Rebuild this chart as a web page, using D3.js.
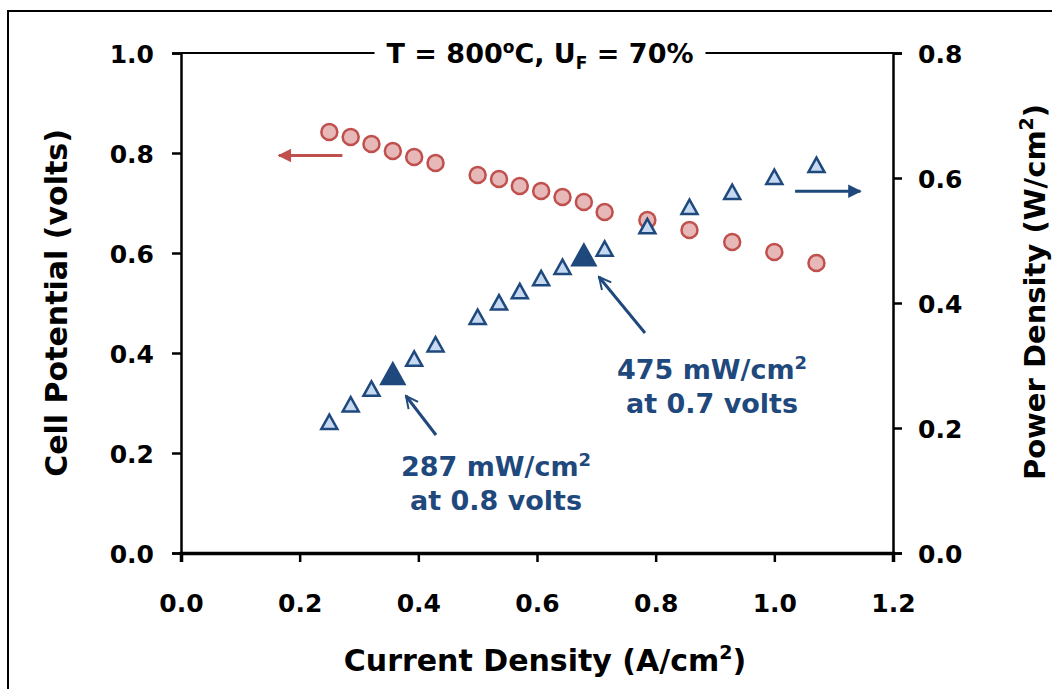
<!DOCTYPE html>
<html>
<head>
<meta charset="utf-8">
<script src="https://cdn.jsdelivr.net/npm/d3@7"></script>
<style>
  body { margin: 0; background: #fff; }
  svg text { font-family: "DejaVu Sans", Verdana, sans-serif; font-weight: bold; }
</style>
</head>
<body>
<div id="chart"></div>
<script>

// current density (A/cm2)
var current = [0.25, 0.286, 0.321, 0.357, 0.393, 0.429, 0.5, 0.536, 0.571,
               0.607, 0.643, 0.679, 0.714, 0.786, 0.857, 0.929, 1.0, 1.071];
// cell potential (volts)
var voltage = [0.842, 0.832, 0.818, 0.804, 0.792, 0.780, 0.756, 0.748, 0.734,
               0.724, 0.712, 0.702, 0.682, 0.666, 0.646, 0.622, 0.602, 0.580];
// power density (W/cm2)
var power = [0.210, 0.238, 0.263, 0.287, 0.311, 0.334, 0.378, 0.401, 0.419,
             0.440, 0.458, 0.477, 0.487, 0.523, 0.554, 0.578, 0.602, 0.621];
// the two highlighted operating points
var highlight = [3, 11];

var xTicks = [0, 0.2, 0.4, 0.6, 0.8, 1.0, 1.2];
var yTicks = [0, 0.2, 0.4, 0.6, 0.8, 1.0];
var y2Ticks = [0, 0.2, 0.4, 0.6, 0.8];

var red = '#c0504d', redFill = '#e6b9b8';
var blue = '#1f497d', blueFill = '#c6d9f1';

var W = 1052, H = 689;
var pLeft = 181, pRight = 893, pTop = 53, pBottom = 553;

var svg = d3.select('#chart')
    .append('svg')
    .attr('width', W)
    .attr('height', H);

svg.append('rect')
    .attr('x', 8).attr('y', 11)
    .attr('width', W + 20).attr('height', H + 20)
    .attr('fill', 'none')
    .attr('stroke', '#000')
    .attr('stroke-width', 2);

var x = d3.scaleLinear().domain([0, 1.2]).range([pLeft, pRight]);
var y = d3.scaleLinear().domain([0, 1.0]).range([pBottom, pTop]);
var y2 = d3.scaleLinear().domain([0, 0.8]).range([pBottom, pTop]);

var fmt = d3.format('.1f');

// top frame line (broken by the title)
svg.append('line')
    .attr('x1', pLeft).attr('x2', pRight)
    .attr('y1', pTop).attr('y2', pTop)
    .attr('stroke', '#000').attr('stroke-width', 2);

var axL = svg.append('g')
    .attr('transform', 'translate(' + pLeft + ',0)')
    .call(d3.axisLeft(y).tickValues(yTicks).tickFormat(fmt).tickSize(9).tickPadding(18));

var axR = svg.append('g')
    .attr('transform', 'translate(' + pRight + ',0)')
    .call(d3.axisRight(y2).tickValues(y2Ticks).tickFormat(fmt).tickSize(9).tickPadding(16));

var axB = svg.append('g')
    .attr('transform', 'translate(0,' + pBottom + ')')
    .call(d3.axisBottom(x).tickValues(xTicks).tickFormat(fmt).tickSize(9).tickPadding(32));

[axL, axR, axB].forEach(function(g) {
	g.select('.domain').attr('stroke', '#000').attr('stroke-width', 2.5);
	g.selectAll('.tick line').attr('stroke', '#000').attr('stroke-width', 2.5);
	g.selectAll('.tick text')
	    .attr('fill', '#000')
	    .style('font-size', '25px')
	    .style('font-family', '"DejaVu Sans", Verdana, sans-serif')
	    .style('font-weight', 'bold');
});
axB.select('.domain').attr('stroke-width', 3.5);
axL.selectAll('.tick text').attr('dy', '0.36em');
axR.selectAll('.tick text').attr('dy', '0.36em');

// title with white backing over the top line
var titleBg = svg.append('rect').attr('fill', '#fff');
var title = svg.append('text')
    .attr('x', 540).attr('y', 63)
    .attr('text-anchor', 'middle')
    .style('font-size', '27px');
title.append('tspan').text('T = 800');
title.append('tspan').attr('dy', -10).style('font-size', '17px').text('o');
title.append('tspan').attr('dy', 10).text('C, U');
title.append('tspan').attr('dy', 6).style('font-size', '17px').text('F');
title.append('tspan').attr('dy', -6).text(' = 70%');
var tb = title.node().getBBox();
titleBg
    .attr('x', tb.x - 12).attr('y', pTop - 4)
    .attr('width', tb.width + 24).attr('height', 8);

// axis titles
var xt = svg.append('text')
    .attr('x', 545).attr('y', 671)
    .attr('text-anchor', 'middle')
    .style('font-size', '30px')
    .text('Current Density (A/cm');
xt.append('tspan').attr('dy', -12).style('font-size', '19px').text('2');
xt.append('tspan').attr('dy', 12).text(')');

svg.append('text')
    .attr('transform', 'translate(67,' + 303 + ') rotate(-90)')
    .attr('text-anchor', 'middle')
    .style('font-size', '30px')
    .text('Cell Potential (volts)');

var yt2 = svg.append('text')
    .attr('transform', 'translate(1045,' + 292 + ') rotate(-90)')
    .attr('text-anchor', 'middle')
    .style('font-size', '29px')
    .text('Power Density (W/cm');
yt2.append('tspan').attr('dy', -12).style('font-size', '19px').text('2');
yt2.append('tspan').attr('dy', 12).text(')');

// markers
var tri = function(s) {
	var h = s * 0.9;
	return 'M0,' + (-h / 2) + 'L' + (s / 2) + ',' + (h / 2) + 'L' + (-s / 2) + ',' + (h / 2) + 'Z';
};

svg.append('g').selectAll('circle')
    .data(current)
    .enter().append('circle')
    .attr('cx', function(d) { return x(d); })
    .attr('cy', function(d, i) { return y(voltage[i]); })
    .attr('r', 8)
    .attr('fill', redFill)
    .attr('stroke', red)
    .attr('stroke-width', 2.5);

svg.append('g').selectAll('path')
    .data(current)
    .enter().append('path')
    .attr('transform', function(d, i) { return 'translate(' + x(d) + ',' + y2(power[i]) + ')'; })
    .attr('d', function(d, i) { return highlight.indexOf(i) >= 0 ? tri(23) : tri(16); })
    .attr('fill', function(d, i) { return highlight.indexOf(i) >= 0 ? blue : blueFill; })
    .attr('stroke', blue)
    .attr('stroke-width', 2.5)
    .attr('stroke-linejoin', 'miter');

// arrows
var defs = svg.append('defs');
[['ahRed', red], ['ahBlue', blue]].forEach(function(a) {
	defs.append('marker')
	    .attr('id', a[0])
	    .attr('viewBox', '0 0 10 10')
	    .attr('refX', 9).attr('refY', 5)
	    .attr('markerWidth', 5).attr('markerHeight', 4.5)
	    .attr('markerUnits', 'strokeWidth')
	    .attr('orient', 'auto')
	    .append('path').attr('d', 'M0,0L10,5L0,10Z').attr('fill', a[1]);
	defs.append('marker')
	    .attr('id', a[0] + 'Open')
	    .attr('viewBox', '0 0 10 10')
	    .attr('refX', 9).attr('refY', 5)
	    .attr('markerWidth', 5).attr('markerHeight', 5)
	    .attr('markerUnits', 'strokeWidth')
	    .attr('orient', 'auto')
	    .append('path').attr('d', 'M1,1L9,5L1,9')
	    .attr('fill', 'none').attr('stroke', a[1]).attr('stroke-width', 1.3);
});

var arrow = function(x1, y1, x2, y2, color, marker) {
	svg.append('line')
	    .attr('x1', x1).attr('y1', y1)
	    .attr('x2', x2).attr('y2', y2)
	    .attr('stroke', color)
	    .attr('stroke-width', 3)
	    .attr('marker-end', 'url(#' + marker + ')');
};
arrow(x(0.272), y(0.795), x(0.165), y(0.795), red, 'ahRed');
arrow(x(1.035), y2(0.579), x(1.145), y2(0.579), blue, 'ahBlue');
arrow(436, 435, 406, 396, blue, 'ahBlueOpen');
arrow(645, 333, 599, 277, blue, 'ahBlueOpen');

// annotations
var note = function(cx, cy, l1, l2) {
	var t = svg.append('text')
	    .attr('x', cx).attr('y', cy)
	    .attr('text-anchor', 'middle')
	    .attr('fill', blue)
	    .style('font-size', '27px');
	t.append('tspan').text(l1);
	t.append('tspan').attr('dy', -10).style('font-size', '18px').text('2');
	svg.append('text')
	    .attr('x', cx).attr('y', cy + 34)
	    .attr('text-anchor', 'middle')
	    .attr('fill', blue)
	    .style('font-size', '27px')
	    .text(l2);
};
note(712, 379, '475 mW/cm', 'at 0.7 volts');
note(496, 476, '287 mW/cm', 'at 0.8 volts');

</script>
</body>
</html>
